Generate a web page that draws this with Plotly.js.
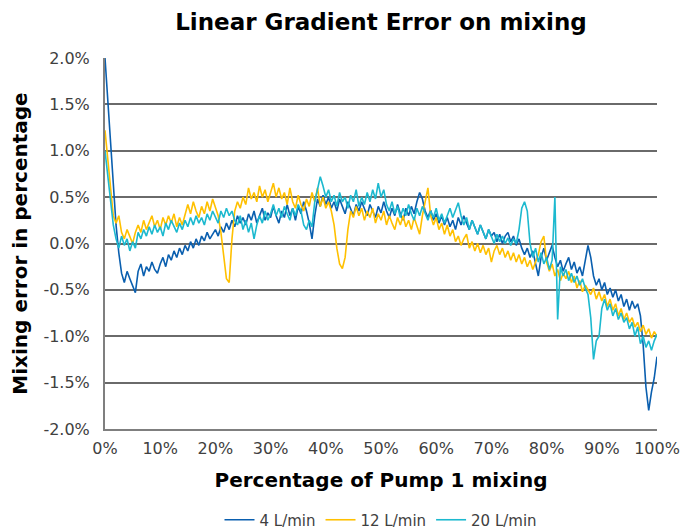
<!DOCTYPE html>
<html>
<head>
<meta charset="utf-8">
<script src="https://cdn.plot.ly/plotly-3.0.1.min.js"></script>
<style>html,body{margin:0;padding:0;background:#fff;}#chart{width:682px;height:529px;}</style>
</head>
<body>
<div id="chart"></div>
<script>
// Percentage of Pump 1 mixing (x, in %)
const xPct = [0,0.5,1,1.5,2,2.5,3,3.5,4,4.5,5,5.5,6,6.5,7,7.5,8,8.5,9,9.5,
10,10.5,11,11.5,12,12.5,13,13.5,14,14.5,15,15.5,16,16.5,17,17.5,18,18.5,19,19.5,
20,20.5,21,21.5,22,22.5,23,23.5,24,24.5,25,25.5,26,26.5,27,27.5,28,28.5,29,29.5,
30,30.5,31,31.5,32,32.5,33,33.5,34,34.5,35,35.5,36,36.5,37,37.5,38,38.5,39,39.5,
40,40.5,41,41.5,42,42.5,43,43.5,44,44.5,45,45.5,46,46.5,47,47.5,48,48.5,49,49.5,
50,50.5,51,51.5,52,52.5,53,53.5,54,54.5,55,55.5,56,56.5,57,57.5,58,58.5,59,59.5,
60,60.5,61,61.5,62,62.5,63,63.5,64,64.5,65,65.5,66,66.5,67,67.5,68,68.5,69,69.5,
70,70.5,71,71.5,72,72.5,73,73.5,74,74.5,75,75.5,76,76.5,77,77.5,78,78.5,79,79.5,
80,80.5,81,81.5,82,82.5,83,83.5,84,84.5,85,85.5,86,86.5,87,87.5,88,88.5,89,89.5,
90,90.5,91,91.5,92,92.5,93,93.5,94,94.5,95,95.5,96,96.5,97,97.5,98,98.5,99,99.5,100];

// Mixing error (%) — 4 L/min
const err4 = [2.0,1.55,1.1,0.6,0.2,-0.1,-0.32,-0.42,-0.3,-0.38,-0.45,-0.53,-0.3,-0.22,-0.35,-0.25,-0.3,-0.2,-0.28,-0.32,
-0.22,-0.15,-0.25,-0.12,-0.18,-0.08,-0.15,-0.05,-0.12,-0.02,-0.08,0.02,-0.05,0.05,-0.02,0.08,0.03,0.12,0.05,0.1,
0.15,0.08,0.18,0.12,0.22,0.15,0.25,0.18,0.3,0.22,0.28,0.2,0.32,0.25,0.35,0.22,0.3,0.38,0.25,0.33,
0.28,0.4,0.3,0.22,0.35,0.28,0.42,0.3,0.38,0.25,0.4,0.32,0.45,0.35,0.22,0.05,0.3,0.48,0.4,0.52,
0.42,0.5,0.38,0.45,0.35,0.48,0.4,0.32,0.45,0.38,0.3,0.42,0.35,0.45,0.38,0.3,0.42,0.35,0.28,0.4,
0.33,0.45,0.35,0.28,0.38,0.3,0.42,0.32,0.25,0.38,0.3,0.4,0.32,0.45,0.55,0.48,0.35,0.28,0.36,0.25,
0.32,0.22,0.3,0.2,0.28,0.18,0.25,0.15,0.28,0.2,0.3,0.22,0.15,0.25,0.18,0.1,0.2,0.12,0.05,0.15,
0.08,0.12,0.02,0.1,0.0,0.08,0.12,0.02,0.08,-0.02,0.05,-0.05,-0.12,-0.05,-0.15,-0.08,-0.2,-0.35,-0.15,-0.05,
-0.18,-0.1,-0.02,-0.15,-0.25,-0.18,-0.3,-0.22,-0.15,-0.28,-0.2,-0.32,-0.25,-0.35,-0.2,-0.02,-0.15,-0.35,-0.45,-0.38,
-0.5,-0.42,-0.55,-0.48,-0.58,-0.5,-0.62,-0.55,-0.68,-0.6,-0.72,-0.62,-0.7,-0.65,-0.78,-1.1,-1.55,-1.8,-1.6,-1.45,-1.22];

// Mixing error (%) — 12 L/min
const err12 = [1.22,0.9,0.55,0.3,0.22,0.3,0.12,0.05,0.15,0.08,0.0,0.12,0.2,0.12,0.25,0.15,0.22,0.3,0.18,0.25,
0.15,0.28,0.2,0.3,0.22,0.32,0.18,0.28,0.2,0.3,0.42,0.32,0.45,0.35,0.28,0.4,0.32,0.45,0.35,0.48,
0.38,0.3,0.12,-0.15,-0.38,-0.42,0.05,0.35,0.45,0.38,0.5,0.42,0.6,0.48,0.55,0.45,0.62,0.5,0.58,0.45,
0.55,0.65,0.5,0.6,0.48,0.55,0.42,0.6,0.45,0.38,0.52,0.42,0.35,0.48,0.4,0.55,0.45,0.6,0.4,0.5,
0.38,0.45,0.35,0.2,-0.05,-0.22,-0.27,-0.15,0.15,0.35,0.28,0.4,0.3,0.38,0.25,0.35,0.28,0.38,0.22,0.32,
0.25,0.35,0.2,0.3,0.22,0.15,0.28,0.2,0.3,0.18,0.25,0.15,0.28,0.2,0.1,0.3,0.45,0.6,0.3,0.2,
0.28,0.15,0.22,0.1,0.2,0.08,0.15,0.02,0.08,-0.02,0.05,0.1,-0.05,0.02,-0.08,0.0,-0.1,-0.02,-0.12,-0.05,
-0.2,-0.08,-0.02,-0.12,-0.05,-0.15,-0.08,-0.18,-0.1,-0.2,-0.12,-0.22,-0.15,-0.25,-0.18,-0.28,-0.2,-0.12,0.02,0.08,
-0.2,-0.3,-0.22,-0.35,-0.28,-0.4,-0.32,-0.38,-0.3,-0.42,-0.35,-0.48,-0.4,-0.52,-0.45,-0.5,-0.55,-0.48,-0.6,-0.52,
-0.62,-0.55,-0.68,-0.6,-0.72,-0.65,-0.78,-0.7,-0.82,-0.75,-0.85,-0.8,-0.9,-0.85,-0.95,-0.88,-0.98,-0.92,-1.02,-0.95,-1.0];

// Mixing error (%) — 20 L/min
const err20 = [1.0,0.75,0.5,0.2,0.05,-0.05,0.08,-0.02,0.05,-0.08,0.02,-0.05,0.12,0.05,0.15,0.08,0.18,0.1,0.2,0.12,
0.18,0.08,0.22,0.15,0.25,0.18,0.12,0.22,0.15,0.25,0.18,0.28,0.2,0.3,0.22,0.28,0.2,0.32,0.25,0.35,
0.28,0.22,0.35,0.28,0.38,0.3,0.35,0.25,0.2,0.3,0.15,0.25,0.12,0.22,0.05,0.2,0.3,0.22,0.35,0.25,
0.32,0.42,0.3,0.38,0.28,0.4,0.32,0.25,0.38,0.3,0.42,0.35,0.2,0.15,0.25,0.18,0.45,0.6,0.72,0.62,
0.5,0.58,0.45,0.52,0.4,0.55,0.45,0.5,0.38,0.52,0.45,0.58,0.4,0.5,0.42,0.55,0.45,0.58,0.48,0.65,
0.5,0.58,0.42,0.35,0.45,0.32,0.4,0.28,0.38,0.3,0.42,0.32,0.25,0.38,0.3,0.4,0.32,0.25,0.35,0.28,
0.38,0.25,0.32,0.22,0.3,0.38,0.28,0.35,0.44,0.3,0.2,0.28,0.15,0.25,0.18,0.1,0.2,0.12,0.05,0.15,
0.08,0.0,0.1,0.02,0.08,0.0,0.06,-0.02,0.05,0.0,0.15,0.38,0.45,0.35,0.0,-0.15,-0.05,-0.2,-0.1,-0.22,
-0.15,-0.28,-0.18,0.5,-0.82,-0.25,-0.35,-0.28,-0.4,-0.32,-0.42,-0.35,-0.45,-0.38,-0.48,-0.55,-0.8,-1.25,-1.05,-1.0,
-0.7,-0.6,-0.72,-0.65,-0.78,-0.7,-0.82,-0.75,-0.85,-0.8,-0.92,-0.85,-1.0,-0.9,-1.08,-1.0,-1.12,-1.05,-1.15,-1.05,-0.98];

const seriesNames = ['4 L/min','12 L/min','20 L/min'];
const seriesColors = ['#0A5FAF','#FFC000','#1CB9CF'];
const yTicks = [-2.0,-1.5,-1.0,-0.5,0.0,0.5,1.0,1.5,2.0];
const xTicks = [0,10,20,30,40,50,60,70,80,90,100];

const ys = [err4, err12, err20];
const traces = ys.map((y,i) => ({
  x: xPct, y: y, type: 'scatter', mode: 'lines', name: seriesNames[i],
  line: {color: seriesColors[i], width: 1.6}
}));

const FONT = 'DejaVu Sans, Verdana, sans-serif';
const layout = {
  width: 682, height: 529,
  margin: {l: 105, r: 25, t: 58, b: 100},
  paper_bgcolor: '#fff', plot_bgcolor: '#fff',
  font: {family: FONT, color: '#404040', size: 16},
  title: {text: '<b>Linear Gradient Error on mixing</b>', font: {family: FONT, size: 23, color: '#000'},
          x: 0.5, xref: 'paper', xanchor: 'center', y: 0.958, yref: 'container', yanchor: 'middle'},
  xaxis: {
    range: [0, 100], tickvals: xTicks, ticktext: xTicks.map(v => v + '%'),
    showgrid: false, zeroline: false, showline: true, linecolor: '#7f7f7f', linewidth: 2,
    ticks: '', tickfont: {size: 16, color: '#404040'}, ticklabelstandoff: 4, automargin: false,
    title: {text: '<b>Percentage of Pump 1 mixing</b>', font: {family: FONT, size: 20, color: '#000'}, standoff: 16}
  },
  yaxis: {
    range: [-2.0, 2.0], tickvals: yTicks, ticktext: yTicks.map(v => v.toFixed(1) + '%'),
    showgrid: true, gridcolor: '#6a6a6a', gridwidth: 2, zeroline: false,
    showline: true, linecolor: '#7f7f7f', linewidth: 2,
    ticks: '', tickfont: {size: 16, color: '#404040'}, ticklabelstandoff: 10, automargin: false,
    title: {text: '<b>Mixing error in percentage</b>', font: {family: FONT, size: 20, color: '#000'}, standoff: 10}
  },
  showlegend: true,
  legend: {orientation: 'h', x: 0.5, xref: 'paper', xanchor: 'center', y: 0.017, yref: 'container', yanchor: 'middle',
           font: {size: 15, color: '#404040'}, itemwidth: 30, traceorder: 'normal'}
};

Plotly.newPlot('chart', traces, layout, {displayModeBar: false, staticPlot: true});
</script>
</body>
</html>
